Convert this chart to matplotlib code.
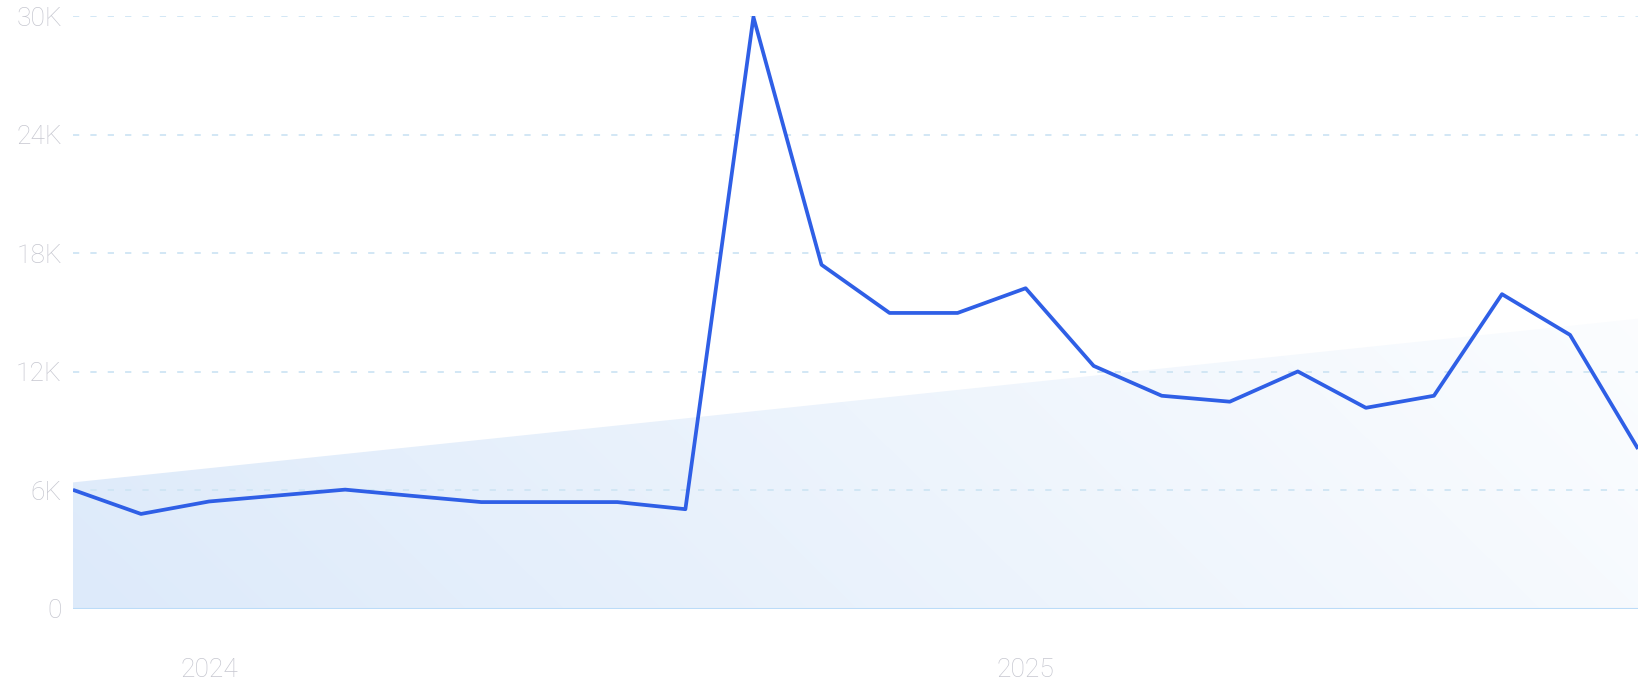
import numpy as np
import matplotlib
matplotlib.use("Agg")
import matplotlib.pyplot as plt
from matplotlib.patches import Polygon

# monthly values, Nov 2023 .. Oct 2025
months = ["2023-11", "2023-12", "2024-01", "2024-02", "2024-03", "2024-04",
          "2024-05", "2024-06", "2024-07", "2024-08", "2024-09", "2024-10",
          "2024-11", "2024-12", "2025-01", "2025-02", "2025-03", "2025-04",
          "2025-05", "2025-06", "2025-07", "2025-08", "2025-09", "2025-10"]
values = [6030, 4810, 5440, 5740, 6040, 5720, 5410, 5410, 5410, 5050,
          29950, 17420, 14980, 14980, 16230, 12300, 10790, 10490, 12020,
          10180, 10790, 15930, 13870, 8100]

y_ticks = [0, 6000, 12000, 18000, 24000, 30000]
y_tick_labels = ["0", "6K", "12K", "18K", "24K", "30K"]
x_tick_labels = ["2024", "2025"]

plt.rcParams["font.family"] = ["Roboto", "DejaVu Sans"]
plt.rcParams["lines.scale_dashes"] = False

x = np.arange(len(values))
y = np.array(values, dtype=float)

fig = plt.figure(figsize=(16.43, 7.0), dpi=100)
ax = fig.add_axes([0.0444, 0.130, 0.9526, 0.847])
ax.set_xlim(x[0], x[-1])
ax.set_ylim(0, 30000)

# trend area with gradient
slope, inter = np.polyfit(x, y, 1)
trend = inter + slope * x
poly = Polygon([(x[0], 0), (x[0], trend[0]), (x[-1], trend[-1]), (x[-1], 0)],
               closed=True, facecolor="none", edgecolor="none")
ax.add_patch(poly)
gx, gy = np.meshgrid(np.linspace(0, 1, 400), np.linspace(0, 1, 100))
t = np.clip(0.8 * gx + 0.15 * gy, 0, 1)
c0 = np.array([221, 234, 250]) / 255
c1 = np.array([253, 254, 255]) / 255
img = c0[None, None, :] * (1 - t[..., None]) + c1[None, None, :] * t[..., None]
im = ax.imshow(img, extent=[x[0], x[-1], 0, trend.max()], origin="lower",
               aspect="auto", zorder=1, interpolation="bilinear")
im.set_clip_path(poly)

# grid
for v in y_ticks[1:]:
    ax.axhline(v, color="#cfe5f4", lw=1.3, dashes=(4.5, 8), zorder=2)
ax.axhline(0, color="#bcdcf8", lw=1.5, zorder=2)

ax.plot(x, y, color="#2f5fe6", lw=2.7, solid_joinstyle="round",
        solid_capstyle="butt", zorder=3)

for s in ax.spines.values():
    s.set_visible(False)
ax.set_yticks(y_ticks)
ax.set_yticklabels(y_tick_labels)
ax.set_xticks([months.index("2024-01"), months.index("2025-01")])
ax.set_xticklabels(x_tick_labels)
ax.tick_params(axis="y", length=0, pad=8, labelsize=19, labelcolor="#c6c7d0")
ax.tick_params(axis="x", length=0, pad=35, labelsize=19, labelcolor="#c6c7d0")
for lab in ax.get_xticklabels() + ax.get_yticklabels():
    lab.set_fontweight("light")

fig.savefig("out.png", dpi=100)
